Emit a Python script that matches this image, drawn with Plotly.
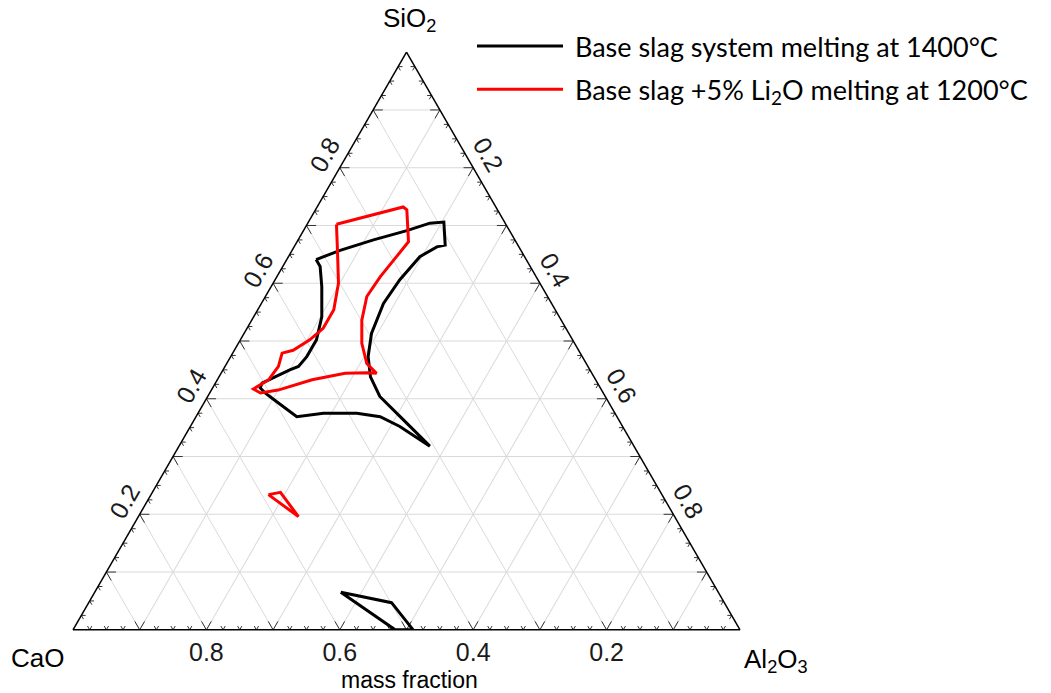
import plotly.graph_objects as go

# ---- Liquid (fully molten) regions, mass fractions ----
# Base slag system melting at 1400 °C, main region
base_sio2 = [0.641, 0.657, 0.675, 0.691, 0.704, 0.706, 0.666, 0.663, 0.646, 0.606, 0.565,
             0.513, 0.473, 0.438, 0.404, 0.369, 0.318, 0.352, 0.369, 0.375, 0.375, 0.369,
             0.401, 0.410, 0.419, 0.427, 0.438, 0.450, 0.456, 0.473, 0.502, 0.542, 0.594,
             0.629, 0.641]
base_cao = [0.315, 0.271, 0.212, 0.154, 0.113, 0.091, 0.109, 0.123, 0.157, 0.207, 0.252,
            0.296, 0.321, 0.335, 0.338, 0.325, 0.306, 0.334, 0.355, 0.387, 0.437, 0.480,
            0.501, 0.507, 0.510, 0.503, 0.478, 0.450, 0.434, 0.413, 0.384, 0.356, 0.330,
            0.315, 0.315]

# Base slag system, low-silica region near the CaO–Al2O3 edge
base2_sio2 = [0.065, 0.047, 0.000, 0.000, 0.065]
base2_cao = [0.566, 0.499, 0.490, 0.517, 0.566]

# Base slag + 5% Li2O melting at 1200 °C, main region
li_sio2 = [0.702, 0.732, 0.727, 0.672, 0.646, 0.611, 0.577, 0.536, 0.496, 0.461, 0.444,
           0.445, 0.444, 0.433, 0.415, 0.410, 0.417, 0.433, 0.456, 0.479, 0.484, 0.502,
           0.522, 0.554, 0.600, 0.657, 0.702]
li_cao = [0.254, 0.139, 0.136, 0.161, 0.192, 0.234, 0.271, 0.299, 0.319, 0.329, 0.323,
          0.337, 0.370, 0.425, 0.485, 0.514, 0.521, 0.490, 0.464, 0.447, 0.428, 0.394,
          0.364, 0.332, 0.302, 0.275, 0.254]

# Base slag + 5% Li2O, small isolated region
li2_sio2 = [0.234, 0.238, 0.196, 0.234]
li2_cao = [0.590, 0.570, 0.564, 0.590]

# Axis ticks / labels
grid_vals = [0.1, 0.2, 0.3, 0.4, 0.5, 0.6, 0.7, 0.8, 0.9]
grid_text = ["", "0.2", "", "0.4", "", "0.6", "", "0.8", ""]


def rest(a_list, b_list):
    return [round(1 - a - b, 4) for a, b in zip(a_list, b_list)]


W, H = 1051, 693
# triangle corners in pixels
X_LEFT, X_RIGHT, Y_BASE, Y_TOP = 73, 740, 630, 52

LABEL_FONT = "Liberation Sans, Arial, sans-serif"
LEGEND_FONT = "Lato, Carlito, Calibri, sans-serif"

fig = go.Figure()

# ---- small arrow-like tick glyphs along the three edges ----
ta, tb, tc = [], [], []
for k in range(1, 40):
    v = k * 0.025
    d = 0.0145 if k % 4 == 0 else 0.0065
    # bottom edge (SiO2 = 0): point (0, v, 1-v)
    for (a1, b1, c1) in [(d, v, 1 - v - d), (0, v, 1 - v), (d, v - d, 1 - v)]:
        ta.append(a1); tb.append(b1); tc.append(c1)
    ta.append(None); tb.append(None); tc.append(None)
    # left edge (Al2O3 = 0): point (v, 1-v, 0)
    for (a1, b1, c1) in [(v, 1 - v - d, d), (v, 1 - v, 0), (v - d, 1 - v, d)]:
        ta.append(a1); tb.append(b1); tc.append(c1)
    ta.append(None); tb.append(None); tc.append(None)
    # right edge (CaO = 0): point (1-v, 0, v)
    for (a1, b1, c1) in [(1 - v - d, d, v), (1 - v, 0, v), (1 - v, d, v - d)]:
        ta.append(a1); tb.append(b1); tc.append(c1)
    ta.append(None); tb.append(None); tc.append(None)

fig.add_trace(go.Scatterternary(
    a=ta, b=tb, c=tc, mode="lines", line=dict(color="#333333", width=1),
    hoverinfo="skip", showlegend=False))

black_line = dict(color="black", width=3)
red_line = dict(color="#ff0000", width=3)

fig.add_trace(go.Scatterternary(
    a=base_sio2, b=base_cao, c=rest(base_sio2, base_cao), mode="lines",
    line=black_line, name="\u00a0Base slag system melting at 1400°C",
    legendgroup="base"))
fig.add_trace(go.Scatterternary(
    a=base2_sio2, b=base2_cao, c=rest(base2_sio2, base2_cao), mode="lines",
    line=black_line, name="Base slag system melting at 1400°C",
    legendgroup="base", showlegend=False))
fig.add_trace(go.Scatterternary(
    a=li_sio2, b=li_cao, c=rest(li_sio2, li_cao), mode="lines",
    line=red_line, name="\u00a0Base slag +5% Li<sub>2</sub>O melting at 1200°C",
    legendgroup="li"))
fig.add_trace(go.Scatterternary(
    a=li2_sio2, b=li2_cao, c=rest(li2_sio2, li2_cao), mode="lines",
    line=red_line, name="Base slag +5% Li<sub>2</sub>O melting at 1200°C",
    legendgroup="li", showlegend=False))

axis_common = dict(
    tickmode="array", tickvals=grid_vals, ticktext=grid_text,
    ticks="", tickcolor="rgba(0,0,0,0)",
    tickfont=dict(family=LABEL_FONT, size=25, color="#1a1a1a"),
    showgrid=True, gridcolor="#dadada", gridwidth=1,
    showline=True, linecolor="black", linewidth=1.5,
    min=0, title=dict(text=""),
)

fig.update_layout(
    width=W, height=H,
    margin=dict(l=0, r=0, t=0, b=0),
    paper_bgcolor="white",
    ternary=dict(
        sum=1,
        bgcolor="white",
        domain=dict(x=[X_LEFT / W, X_RIGHT / W],
                    y=[(H - Y_BASE) / H, (H - Y_TOP) / H]),
        aaxis=dict(axis_common, tickangle=-60),
        baxis=dict(axis_common, tickangle=0),
        caxis=dict(axis_common, tickangle=60),
    ),
    showlegend=True,
    legend=dict(
        x=472 / W, y=1 - 22 / H, xanchor="left", yanchor="top",
        font=dict(family=LEGEND_FONT, size=27, color="black"),
        itemwidth=86, traceorder="grouped", tracegroupgap=5,
        bgcolor="rgba(0,0,0,0)",
    ),
)

# vertex labels and axis caption
def px(x, y):
    return x / W, 1 - y / H

for text, (x, y), size in [("SiO<sub>2</sub>", (409, 20), 26), ("CaO", (37, 658), 26),
                           ("Al<sub>2</sub>O<sub>3</sub>", (776, 660), 26),
                           ("mass fraction", (409, 680), 23)]:
    xp, yp = px(x, y)
    fig.add_annotation(
        x=xp, y=yp, xref="paper", yref="paper", text=text, showarrow=False,
        xanchor="center", yanchor="middle",
        font=dict(family=LABEL_FONT, size=size, color="black"))

fig.write_html("out.html")
